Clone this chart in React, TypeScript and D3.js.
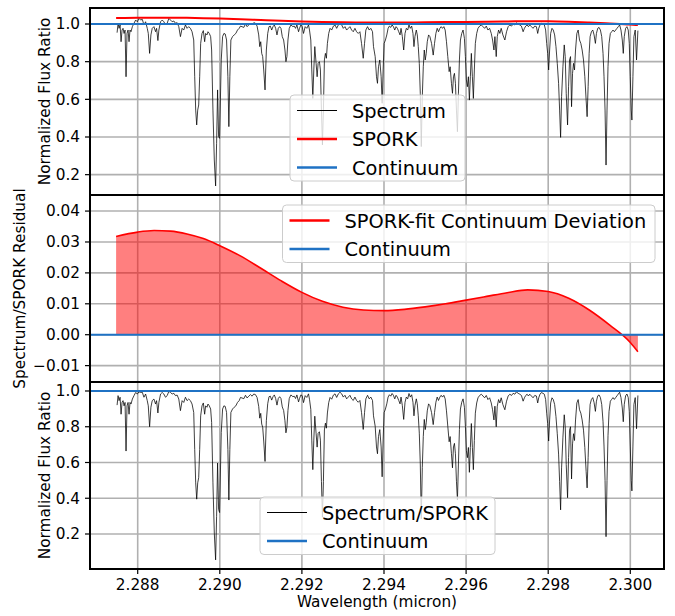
import React from "react";
import * as d3 from "d3";

// Spectrum samples: [wavelength (micron), normalized flux, flux / SPORK]
const samples: [number, number, number][] = [
  [2.287498, 0.954, 0.921], [2.287522, 1.004, 0.974], [2.287546, 0.977, 0.946], [2.287571, 0.995, 0.965],
  [2.287595, 0.906, 0.87], [2.287619, 0.968, 0.936], [2.287643, 0.977, 0.946], [2.287668, 0.95, 0.917],
  [2.287692, 0.968, 0.936], [2.287716, 0.72, 0.664], [2.28774, 0.95, 0.917], [2.287765, 0.968, 0.936],
  [2.287789, 0.906, 0.87], [2.287813, 0.968, 0.936], [2.287837, 0.959, 0.927], [2.28787, 0.986, 0.955],
  [2.28791, 1.004, 0.974], [2.28795, 1.021, 0.992], [2.287991, 1.012, 0.983], [2.288031, 1.03, 0.995],
  [2.288072, 1.021, 0.992], [2.288112, 1.025, 0.993], [2.288152, 0.995, 0.965], [2.288193, 1.012, 0.983],
  [2.288233, 0.977, 0.946], [2.288258, 0.95, 0.917], [2.28829, 0.844, 0.8], [2.288322, 0.942, 0.909],
  [2.288354, 0.977, 0.946], [2.288395, 0.986, 0.955], [2.288435, 0.959, 0.927], [2.28846, 0.977, 0.946],
  [2.288492, 0.912, 0.877], [2.288516, 0.968, 0.936], [2.288557, 1.012, 0.983], [2.288597, 1.021, 0.992],
  [2.288637, 1.012, 0.983], [2.288678, 0.995, 0.965], [2.288718, 1.004, 0.974], [2.288759, 1.03, 0.998],
  [2.288799, 1.021, 0.992], [2.288839, 1.012, 0.983], [2.28888, 1.016, 0.987], [2.28892, 1.004, 0.974],
  [2.288961, 1.007, 0.977], [2.289001, 0.986, 0.955], [2.289041, 0.933, 0.89], [2.289082, 0.977, 0.946],
  [2.289122, 0.968, 0.936], [2.289163, 0.995, 0.965], [2.289203, 0.977, 0.946], [2.289243, 0.986, 0.955],
  [2.289284, 0.977, 0.946], [2.289324, 0.959, 0.927], [2.289365, 0.915, 0.88], [2.289389, 0.72, 0.673],
  [2.289413, 0.543, 0.486], [2.289437, 0.464, 0.395], [2.289462, 0.543, 0.486], [2.289486, 0.57, 0.515],
  [2.28951, 0.72, 0.673], [2.289534, 0.897, 0.861], [2.289567, 0.95, 0.917], [2.289599, 0.965, 0.933],
  [2.289631, 0.906, 0.87], [2.289655, 0.95, 0.917], [2.289688, 0.942, 0.909], [2.289712, 0.959, 0.927],
  [2.289744, 0.95, 0.917], [2.289777, 0.933, 0.899], [2.289801, 0.862, 0.824], [2.289833, 0.543, 0.486],
  [2.289866, 0.278, 0.205], [2.289898, 0.14, 0.055], [2.289922, 0.366, 0.299], [2.289946, 0.65, 0.597],
  [2.289971, 0.402, 0.337], [2.289995, 0.393, 0.32], [2.290035, 0.809, 0.768], [2.290068, 0.933, 0.899],
  [2.2901, 0.95, 0.917], [2.290132, 0.947, 0.914], [2.290165, 0.915, 0.88], [2.290197, 0.72, 0.673],
  [2.290221, 0.455, 0.39], [2.290245, 0.72, 0.673], [2.29027, 0.915, 0.88], [2.29031, 0.933, 0.899],
  [2.29035, 0.942, 0.909], [2.290391, 0.95, 0.917], [2.290431, 0.968, 0.936], [2.290472, 0.977, 0.946],
  [2.290504, 0.989, 0.964], [2.290585, 0.982, 0.957], [2.290625, 1.0, 0.976], [2.290666, 0.986, 0.961],
  [2.290706, 0.995, 0.971], [2.290746, 1.004, 0.98], [2.290787, 0.995, 0.971], [2.290827, 1.007, 0.983],
  [2.290868, 1.004, 0.98], [2.290908, 0.989, 0.964], [2.290948, 0.942, 0.914], [2.290973, 0.88, 0.848],
  [2.290997, 0.906, 0.875], [2.291021, 0.844, 0.815], [2.291045, 0.827, 0.797], [2.29107, 0.756, 0.72],
  [2.291102, 0.65, 0.606], [2.291134, 0.862, 0.834], [2.291167, 0.95, 0.929], [2.291199, 0.986, 0.968],
  [2.291231, 0.989, 0.971], [2.291264, 0.968, 0.949], [2.291296, 0.986, 0.968], [2.291328, 0.995, 0.978],
  [2.291361, 0.977, 0.958], [2.291393, 0.942, 0.921], [2.291425, 0.977, 0.958], [2.291458, 0.986, 0.968],
  [2.29149, 0.977, 0.958], [2.291522, 0.933, 0.911], [2.291555, 0.915, 0.891], [2.291587, 0.862, 0.834],
  [2.291611, 0.8, 0.766], [2.291635, 0.827, 0.797], [2.29166, 0.915, 0.891], [2.291692, 0.977, 0.958],
  [2.291732, 0.995, 0.978], [2.291781, 0.986, 0.968], [2.291813, 0.989, 0.971], [2.291845, 0.977, 0.958],
  [2.291878, 0.995, 0.978], [2.291918, 0.959, 0.939], [2.291942, 0.977, 0.958], [2.291975, 0.995, 0.978],
  [2.292007, 0.986, 0.974], [2.292039, 0.95, 0.935], [2.29208, 0.986, 0.974], [2.29212, 0.977, 0.964],
  [2.292161, 0.995, 0.984], [2.292185, 0.968, 0.954], [2.292217, 0.915, 0.897], [2.292241, 0.756, 0.725],
  [2.292266, 0.605, 0.56], [2.29229, 0.756, 0.725], [2.292314, 0.88, 0.859], [2.292346, 0.791, 0.763],
  [2.292371, 0.72, 0.686], [2.292395, 0.791, 0.763], [2.292427, 0.8, 0.772], [2.292451, 0.756, 0.725],
  [2.292476, 0.543, 0.494], [2.2925, 0.358, 0.294], [2.292524, 0.543, 0.494], [2.292548, 0.809, 0.782],
  [2.292573, 0.844, 0.82], [2.292597, 0.818, 0.792], [2.292621, 0.897, 0.877], [2.292653, 0.95, 0.935],
  [2.292686, 0.977, 0.964], [2.292726, 0.968, 0.954], [2.292767, 0.989, 0.977], [2.292807, 0.995, 0.984],
  [2.292847, 0.977, 0.964], [2.292888, 0.995, 0.984], [2.292928, 1.004, 0.993], [2.292969, 0.995, 0.984],
  [2.293009, 0.977, 0.966], [2.293049, 0.986, 0.976], [2.29309, 0.968, 0.956], [2.29313, 0.977, 0.966],
  [2.29317, 0.986, 0.976], [2.293211, 0.968, 0.956], [2.293251, 0.959, 0.947], [2.293292, 0.977, 0.966],
  [2.293332, 0.959, 0.947], [2.293372, 0.95, 0.937], [2.293413, 0.959, 0.947], [2.293453, 0.897, 0.879],
  [2.293494, 0.818, 0.785], [2.293526, 0.897, 0.879], [2.293558, 0.968, 0.956], [2.293599, 0.986, 0.976],
  [2.293639, 0.968, 0.956], [2.293679, 0.977, 0.966], [2.29372, 0.959, 0.947], [2.293744, 0.88, 0.861],
  [2.293785, 0.827, 0.803], [2.293817, 0.72, 0.687], [2.293841, 0.685, 0.649], [2.293866, 0.773, 0.745],
  [2.293898, 0.809, 0.784], [2.29393, 0.72, 0.687], [2.293955, 0.579, 0.52], [2.293979, 0.756, 0.726],
  [2.294003, 0.897, 0.879], [2.294035, 0.915, 0.899], [2.294068, 0.942, 0.928], [2.2941, 0.977, 0.966],
  [2.294132, 0.989, 0.979], [2.294165, 0.982, 0.971], [2.294197, 0.995, 0.986], [2.294229, 0.986, 0.976],
  [2.294262, 0.968, 0.956], [2.294294, 0.986, 0.976], [2.294326, 0.977, 0.966], [2.294359, 0.959, 0.947],
  [2.294391, 0.942, 0.928], [2.294415, 0.977, 0.966], [2.294447, 0.933, 0.918], [2.29448, 0.862, 0.841],
  [2.294512, 0.95, 0.937], [2.294544, 0.977, 0.966], [2.294577, 0.968, 0.956], [2.294609, 0.995, 0.986],
  [2.294641, 0.977, 0.966], [2.294674, 0.989, 0.979], [2.294706, 0.95, 0.937], [2.29473, 0.88, 0.861],
  [2.294754, 0.933, 0.918], [2.294787, 0.968, 0.956], [2.294811, 0.942, 0.928], [2.294835, 0.88, 0.861],
  [2.29486, 0.791, 0.764], [2.294884, 0.632, 0.592], [2.294908, 0.349, 0.285], [2.294933, 0.614, 0.572],
  [2.294957, 0.773, 0.745], [2.294981, 0.862, 0.841], [2.295005, 0.809, 0.784], [2.295029, 0.844, 0.822],
  [2.295054, 0.906, 0.889], [2.295086, 0.942, 0.928], [2.295118, 0.933, 0.918], [2.295159, 0.897, 0.879],
  [2.295199, 0.835, 0.812], [2.295231, 0.897, 0.879], [2.295264, 0.95, 0.937], [2.295296, 0.977, 0.966],
  [2.295328, 0.959, 0.947], [2.295361, 0.977, 0.966], [2.295393, 0.986, 0.976], [2.295425, 0.977, 0.966],
  [2.295458, 0.986, 0.976], [2.29549, 0.968, 0.956], [2.295522, 0.906, 0.889], [2.295554, 0.827, 0.803],
  [2.295587, 0.747, 0.716], [2.295611, 0.773, 0.745], [2.295643, 0.685, 0.649], [2.295668, 0.632, 0.57],
  [2.295692, 0.72, 0.687], [2.295716, 0.738, 0.707], [2.29574, 0.685, 0.649], [2.295765, 0.543, 0.495],
  [2.295789, 0.428, 0.39], [2.295813, 0.632, 0.592], [2.295837, 0.809, 0.784], [2.295862, 0.915, 0.899],
  [2.295894, 0.95, 0.937], [2.295926, 0.968, 0.956], [2.295959, 0.924, 0.909], [2.295983, 0.827, 0.803],
  [2.296007, 0.703, 0.666], [2.296031, 0.667, 0.627], [2.296056, 0.72, 0.684], [2.29608, 0.596, 0.545],
  [2.296104, 0.72, 0.684], [2.296128, 0.844, 0.818], [2.296153, 0.72, 0.684], [2.296177, 0.605, 0.56],
  [2.296201, 0.756, 0.723], [2.296225, 0.897, 0.876], [2.296258, 0.95, 0.933], [2.29629, 0.977, 0.962],
  [2.29633, 0.989, 0.975], [2.296371, 0.995, 0.982], [2.296411, 0.986, 0.972], [2.296451, 0.977, 0.962],
  [2.296492, 0.989, 0.975], [2.296532, 0.968, 0.952], [2.296573, 0.977, 0.962], [2.296613, 0.95, 0.933],
  [2.296645, 0.915, 0.895], [2.296678, 0.862, 0.838], [2.296702, 0.933, 0.915], [2.296734, 0.827, 0.8],
  [2.296759, 0.933, 0.915], [2.296791, 0.968, 0.952], [2.296823, 0.95, 0.933], [2.296855, 0.977, 0.962],
  [2.296896, 0.942, 0.924], [2.296944, 0.915, 0.895], [2.296985, 0.959, 0.943], [2.297025, 0.986, 0.972],
  [2.297066, 0.995, 0.982], [2.297106, 0.989, 0.975], [2.297146, 1.0, 0.987], [2.297187, 0.995, 0.982],
  [2.297227, 1.007, 0.995], [2.297268, 1.0, 0.987], [2.297308, 0.995, 0.982], [2.297348, 0.989, 0.975],
  [2.297389, 0.959, 0.943], [2.297421, 0.977, 0.962], [2.297453, 0.989, 0.975], [2.297486, 0.995, 0.982],
  [2.297518, 0.986, 0.972], [2.29755, 0.995, 0.982], [2.297591, 0.986, 0.972], [2.297631, 0.977, 0.962],
  [2.297672, 0.989, 0.975], [2.297712, 0.986, 0.972], [2.297744, 0.95, 0.933], [2.297769, 0.977, 0.962],
  [2.297801, 0.995, 0.982], [2.297833, 1.004, 0.991], [2.297874, 1.0, 0.987], [2.297906, 0.995, 0.982],
  [2.297938, 0.968, 0.952], [2.297963, 0.897, 0.876], [2.297987, 0.844, 0.818], [2.298011, 0.756, 0.72],
  [2.298035, 0.862, 0.838], [2.29806, 0.95, 0.933], [2.298092, 0.977, 0.962], [2.298124, 0.968, 0.952],
  [2.298157, 0.942, 0.924], [2.298189, 0.88, 0.857], [2.298221, 0.791, 0.761], [2.298253, 0.685, 0.647],
  [2.298278, 0.543, 0.493], [2.298302, 0.398, 0.335], [2.298326, 0.614, 0.57], [2.298359, 0.773, 0.742],
  [2.298391, 0.889, 0.867], [2.298415, 0.827, 0.8], [2.298439, 0.632, 0.589], [2.298472, 0.464, 0.403],
  [2.298496, 0.667, 0.627], [2.29852, 0.809, 0.781], [2.298544, 0.827, 0.8], [2.298569, 0.561, 0.508],
  [2.298593, 0.738, 0.704], [2.298617, 0.791, 0.761], [2.298641, 0.756, 0.723], [2.298666, 0.862, 0.838],
  [2.298698, 0.95, 0.933], [2.29873, 0.968, 0.952], [2.298763, 0.915, 0.895], [2.298795, 0.897, 0.876],
  [2.298827, 0.862, 0.838], [2.29886, 0.809, 0.781], [2.298892, 0.72, 0.684], [2.298924, 0.596, 0.55],
  [2.298948, 0.508, 0.458], [2.298973, 0.667, 0.627], [2.298997, 0.844, 0.818], [2.299021, 0.933, 0.925],
  [2.299053, 0.959, 0.953], [2.299086, 0.968, 0.963], [2.299118, 0.942, 0.935], [2.29915, 0.897, 0.886],
  [2.299175, 0.95, 0.943], [2.299207, 0.977, 0.973], [2.299239, 0.982, 0.978], [2.299272, 0.968, 0.963],
  [2.299304, 0.933, 0.925], [2.299336, 0.844, 0.828], [2.29936, 0.72, 0.692], [2.299385, 0.543, 0.499],
  [2.299409, 0.251, 0.185], [2.299433, 0.543, 0.499], [2.299457, 0.773, 0.75], [2.299482, 0.897, 0.886],
  [2.299514, 0.95, 0.943], [2.299546, 0.959, 0.953], [2.299579, 0.968, 0.963], [2.299611, 0.959, 0.953],
  [2.299643, 0.968, 0.963], [2.299676, 0.977, 0.973], [2.299708, 0.986, 0.983], [2.29974, 0.995, 0.993],
  [2.299773, 0.968, 0.963], [2.299805, 0.915, 0.905], [2.299829, 0.844, 0.828], [2.299853, 0.933, 0.925],
  [2.299886, 0.977, 0.973], [2.299918, 0.986, 0.983], [2.29995, 0.968, 0.963], [2.299975, 0.897, 0.886],
  [2.299999, 0.72, 0.692], [2.300023, 0.543, 0.499], [2.300039, 0.49, 0.441], [2.300064, 0.72, 0.692],
  [2.300088, 0.933, 0.925], [2.30012, 0.968, 0.963], [2.300152, 0.809, 0.789], [2.300185, 0.965, 0.975],
];

// SPORK-fit continuum deviation: [wavelength (micron), deviation]
const deviation: [number, number][] = [
  [2.287474, 0.0318], [2.288, 0.0332], [2.2884, 0.0337], [2.2888, 0.0335], [2.2892, 0.0326],
  [2.2896, 0.0311], [2.29, 0.0288], [2.2905, 0.0255], [2.291, 0.0215], [2.2915, 0.0174],
  [2.292, 0.0137], [2.2925, 0.0108], [2.293, 0.0089], [2.2935, 0.008], [2.294, 0.0078],
  [2.2945, 0.0082], [2.295, 0.009], [2.2955, 0.01], [2.296, 0.0112], [2.2965, 0.0124],
  [2.297, 0.0136], [2.2975, 0.0145], [2.298, 0.014], [2.2985, 0.0118], [2.299, 0.008],
  [2.2995, 0.0031], [2.3, -0.0025], [2.300185, -0.0055],
];

const wavelengthTicks = [2.288, 2.29, 2.292, 2.294, 2.296, 2.298, 2.3];
const fluxTicks = [0.2, 0.4, 0.6, 0.8, 1.0];
const deviationTicks = [-0.01, 0.0, 0.01, 0.02, 0.03, 0.04];

// SPORK continuum level = 1 + deviation
const spork: [number, number][] = deviation.map(([w, d]) => [w, 1 + d]);

const FONT = "DejaVu Sans, Liberation Sans, sans-serif";
const BLUE = "#1f72c4";
const GRID = "#b0b0b0";

const L = 90;
const R = 664;

const x = d3.scaleLinear().domain([2.286838, 2.300821]).range([L, R]);
const yTop = d3.scaleLinear().domain([0.092, 1.085]).range([195, 8]);
const yMid = d3.scaleLinear().domain([-0.0153, 0.0452]).range([382, 195]);
const yBot = d3.scaleLinear().domain([0.0042, 1.0503]).range([569, 382]);

type LegendItem = { label: string; color: string; width: number };

function Legend({ left, top, width, items }: { left: number; top: number; width: number; items: LegendItem[] }) {
  const rowH = 28.5;
  const height = 15.5 * 2 + rowH * (items.length - 1) - 2;
  return (
    <g>
      <rect x={left} y={top} width={width} height={height} rx={4} fill="#ffffff" fillOpacity={0.8} stroke="#cccccc" strokeWidth={1} />
      {items.map((it, i) => {
        const cy = top + 15.5 + i * rowH;
        return (
          <g key={it.label}>
            <line x1={left + 7} x2={left + 47} y1={cy} y2={cy} stroke={it.color} strokeWidth={it.width} />
            <text x={left + 62} y={cy + 7} fontSize={19.4} fontFamily={FONT} fill="#000">
              {it.label}
            </text>
          </g>
        );
      })}
    </g>
  );
}

function Panel({
  y, ticks, fmt, children, id,
}: {
  y: d3.ScaleLinear<number, number>;
  ticks: number[];
  fmt: (v: number) => string;
  children?: React.ReactNode;
  id: string;
}) {
  const [y0, y1] = y.range();
  const top = Math.min(y0, y1);
  const bottom = Math.max(y0, y1);
  return (
    <g>
      <clipPath id={id}>
        <rect x={L} y={top} width={R - L} height={bottom - top} />
      </clipPath>
      <rect x={L} y={top} width={R - L} height={bottom - top} fill="#fff" />
      {wavelengthTicks.map((t) => (
        <line key={"gx" + t} x1={x(t)} x2={x(t)} y1={top} y2={bottom} stroke={GRID} strokeWidth={1.6} />
      ))}
      {ticks.map((t) => (
        <line key={"gy" + t} x1={L} x2={R} y1={y(t)} y2={y(t)} stroke={GRID} strokeWidth={1.6} />
      ))}
      <g clipPath={`url(#${id})`}>{children}</g>
      {ticks.map((t) => (
        <g key={"ty" + t}>
          <line x1={L - 5} x2={L} y1={y(t)} y2={y(t)} stroke="#000" strokeWidth={1.2} />
          <text x={L - 10} y={y(t)} dy="0.35em" textAnchor="end" fontSize={15.3} fontFamily={FONT} fill="#000">
            {fmt(t)}
          </text>
        </g>
      ))}
    </g>
  );
}

export default function App() {
  const specLine = d3.line<[number, number, number]>().x((d) => x(d[0])).y((d) => yTop(d[1]));
  const ratioLine = d3.line<[number, number, number]>().x((d) => x(d[0])).y((d) => yBot(d[2]));
  const sporkLine = d3
    .line<[number, number]>()
    .x((d) => x(d[0]))
    .y((d) => yTop(d[1]))
    .curve(d3.curveMonotoneX);
  const devLine = d3
    .line<[number, number]>()
    .x((d) => x(d[0]))
    .y((d) => yMid(d[1]))
    .curve(d3.curveMonotoneX);
  const devArea = d3
    .area<[number, number]>()
    .x((d) => x(d[0]))
    .y0(yMid(0))
    .y1((d) => yMid(d[1]))
    .curve(d3.curveMonotoneX);

  const f1 = d3.format(".1f");
  const f2 = d3.format(".2f");
  const f3 = d3.format(".3f");

  return (
    <svg width={675} height={616} style={{ position: "absolute", left: 0, top: 0, background: "#fff" }}>
      {/* Spectrum with SPORK continuum */}
      <Panel y={yTop} ticks={fluxTicks} fmt={f1} id="clipTop">
        <path d={specLine(samples) || ""} fill="none" stroke="#000" strokeWidth={0.75} />
        <path d={sporkLine(spork) || ""} fill="none" stroke="#ff0000" strokeWidth={2} />
        <line x1={L} x2={R} y1={yTop(1)} y2={yTop(1)} stroke={BLUE} strokeWidth={2} />
      </Panel>
      <Legend
        left={290}
        top={95}
        width={175}
        items={[
          { label: "Spectrum", color: "#000", width: 1 },
          { label: "SPORK", color: "#ff0000", width: 2.5 },
          { label: "Continuum", color: BLUE, width: 2.5 },
        ]}
      />

      {/* Continuum deviation */}
      <Panel y={yMid} ticks={deviationTicks} fmt={f2} id="clipMid">
        <path d={devArea(deviation) || ""} fill="#ff0000" fillOpacity={0.5} stroke="none" />
        <path d={devLine(deviation) || ""} fill="none" stroke="#ff0000" strokeWidth={1.6} />
        <line x1={L} x2={R} y1={yMid(0)} y2={yMid(0)} stroke={BLUE} strokeWidth={2} />
      </Panel>
      <Legend
        left={282.5}
        top={205}
        width={372.5}
        items={[
          { label: "SPORK-fit Continuum Deviation", color: "#ff0000", width: 2.5 },
          { label: "Continuum", color: BLUE, width: 2.5 },
        ]}
      />

      {/* Spectrum / SPORK */}
      <Panel y={yBot} ticks={fluxTicks} fmt={f1} id="clipBot">
        <path d={ratioLine(samples) || ""} fill="none" stroke="#000" strokeWidth={0.75} />
        <line x1={L} x2={R} y1={yBot(1)} y2={yBot(1)} stroke={BLUE} strokeWidth={2} />
      </Panel>
      <Legend
        left={260}
        top={497}
        width={235}
        items={[
          { label: "Spectrum/SPORK", color: "#000", width: 1 },
          { label: "Continuum", color: BLUE, width: 2.5 },
        ]}
      />

      {/* Frames */}
      {[yTop, yMid, yBot].map((s, i) => {
        const [a, b] = s.range();
        return <rect key={i} x={L} y={Math.min(a, b)} width={R - L} height={Math.abs(a - b)} fill="none" stroke="#000" strokeWidth={2} />;
      })}

      {/* Wavelength axis */}
      {wavelengthTicks.map((t) => (
        <g key={"tx" + t}>
          <line x1={x(t)} x2={x(t)} y1={569} y2={574} stroke="#000" strokeWidth={1.2} />
          <text x={x(t)} y={590} textAnchor="middle" fontSize={15.3} fontFamily={FONT} fill="#000">
            {f3(t)}
          </text>
        </g>
      ))}
      <text x={(L + R) / 2} y={607} textAnchor="middle" fontSize={15.3} fontFamily={FONT} fill="#000">
        Wavelength (micron)
      </text>

      {/* Axis titles */}
      <text transform={`translate(50, ${(8 + 195) / 2}) rotate(-90)`} textAnchor="middle" fontSize={15.3} fontFamily={FONT} fill="#000">
        Normalized Flux Ratio
      </text>
      <text transform={`translate(25, ${(195 + 382) / 2}) rotate(-90)`} textAnchor="middle" fontSize={15.3} fontFamily={FONT} fill="#000">
        Spectrum/SPORK Residual
      </text>
      <text transform={`translate(50, ${(382 + 569) / 2}) rotate(-90)`} textAnchor="middle" fontSize={15.3} fontFamily={FONT} fill="#000">
        Normalized Flux Ratio
      </text>
    </svg>
  );
}
